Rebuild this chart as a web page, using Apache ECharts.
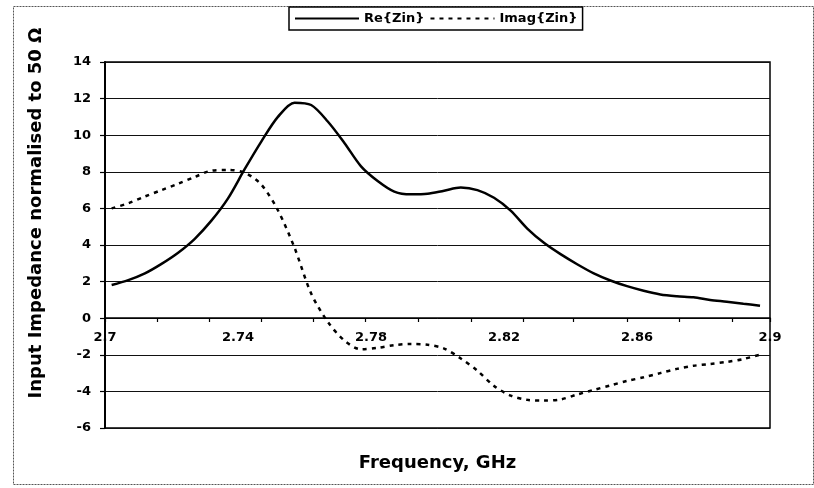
<!DOCTYPE html>
<html>
<head>
<meta charset="utf-8">
<script src="https://cdn.jsdelivr.net/npm/echarts@6/dist/echarts.min.js"></script>
<style>
html,body{margin:0;padding:0;background:#fff;}
#chart{width:814px;height:488px;}
</style>
</head>
<body>
<div id="chart"></div>
<script>
// Frequency (GHz) sample points
const freq = [2.702, 2.707, 2.712, 2.717, 2.722, 2.727, 2.732, 2.737, 2.742, 2.747,
              2.752, 2.757, 2.762, 2.767, 2.772, 2.777, 2.782, 2.787, 2.792, 2.797,
              2.802, 2.807, 2.812, 2.817, 2.822, 2.827, 2.832, 2.837, 2.842, 2.847,
              2.852, 2.857, 2.862, 2.867, 2.872, 2.877, 2.882, 2.887, 2.892, 2.897];
// Re{Zin}
const reZin = [1.81, 2.08, 2.45, 2.97, 3.58, 4.34, 5.33, 6.55, 8.14, 9.65,
               11.0, 11.78, 11.65, 10.75, 9.58, 8.3, 7.5, 6.92, 6.77, 6.8,
               6.97, 7.14, 7.0, 6.58, 5.88, 4.9, 4.12, 3.5, 2.95, 2.45,
               2.06, 1.75, 1.5, 1.3, 1.2, 1.14, 1.0, 0.9, 0.79, 0.68];
// Imag{Zin}
const imZin = [6.0, 6.28, 6.65, 7.0, 7.35, 7.72, 8.06, 8.1, 7.95, 7.3,
               5.9, 3.85, 1.35, -0.2, -1.22, -1.7, -1.62, -1.47, -1.41, -1.45,
               -1.66, -2.2, -2.87, -3.7, -4.23, -4.46, -4.5, -4.44, -4.17, -3.92,
               -3.67, -3.43, -3.23, -3.0, -2.77, -2.6, -2.5, -2.39, -2.23, -1.99];
// Axis tick labels
const xLabels = [2.7, 2.74, 2.78, 2.82, 2.86, 2.9];
const xTickMarks = [2.7, 2.7156, 2.7313, 2.7469, 2.7626, 2.7782, 2.7941, 2.8101, 2.8257, 2.8408, 2.8570, 2.8726, 2.8886, 2.9];
const yLabels = [-6, -4, -2, 0, 2, 4, 6, 8, 10, 12, 14];

const FONT = 'DejaVu Sans';
const chart = echarts.init(document.getElementById('chart'), null, {renderer: 'canvas'});
chart.setOption({
  animation: false,
  backgroundColor: '#fff',
  graphic: [{
    type: 'rect', left: 11, top: 4, z: -1,
    shape: {width: 800, height: 478},
    style: {fill: 'none', stroke: '#555', lineWidth: 1, lineDash: [2, 1]}
  }],
  legend: {
    left: 289, top: 7,
    padding: [5, 5, 5, 5],
    borderColor: '#000', borderWidth: 1.5,
    itemWidth: 64, itemHeight: 14, itemGap: 5,
    itemStyle: {color: 'transparent', opacity: 0, borderWidth: 0},
    textStyle: {fontFamily: FONT, fontWeight: 'bold', fontSize: 13, color: '#000'},
    data: ['Re{Zin}', 'Imag{Zin}']
  },
  grid: {left: 105, right: 44, top: 62, bottom: 60, outerBoundsMode: 'none', containLabel: false,
    show: true, borderColor: '#000', borderWidth: 1.5, backgroundColor: 'transparent'},
  xAxis: {
    type: 'value', min: 2.7, max: 2.9, position: 'bottom', offset: -110,
    name: 'Frequency, GHz', nameLocation: 'middle', nameGap: 136,
    nameTextStyle: {fontFamily: FONT, fontWeight: 'bold', fontSize: 18, color: '#000'},
    axisLine: {onZero: false, lineStyle: {color: '#000', width: 1.5}},
    axisTick: {show: true, inside: false, length: 4, customValues: xTickMarks, lineStyle: {color: '#000', width: 1.2}},
    axisLabel: {customValues: xLabels, margin: 13, fontFamily: FONT, fontWeight: 'bold', fontSize: 13, color: '#000',
      formatter: v => String(+v.toFixed(2))},
    splitLine: {show: false}
  },
  yAxis: {
    type: 'value', min: -6, max: 14, interval: 2,
    name: 'Input Impedance normalised to 50 Ω', nameLocation: 'middle', nameGap: 60, nameRotate: 90,
    nameTextStyle: {fontFamily: FONT, fontWeight: 'bold', fontSize: 18, color: '#000', padding: [0, 0, 0, 64]},
    axisLine: {show: true, onZero: false, lineStyle: {color: '#000', width: 2}},
    axisTick: {show: true, length: 5, lineStyle: {color: '#000', width: 1.2}},
    axisLabel: {margin: 14, fontFamily: FONT, fontWeight: 'bold', fontSize: 13, color: '#000'},
    splitLine: {show: true, lineStyle: {color: '#111', width: 1}}
  },
  series: [{
    name: 'Re{Zin}', type: 'line', smooth: 0.3, symbol: 'none',
    lineStyle: {color: '#000', width: 2.5, type: 'solid'},
    itemStyle: {color: '#000'},
    data: freq.map((f, i) => [f, reZin[i]])
  }, {
    name: 'Imag{Zin}', type: 'line', smooth: 0.3, symbol: 'none',
    lineStyle: {color: '#000', width: 2.5, type: [4, 5]},
    itemStyle: {color: '#000'},
    data: freq.map((f, i) => [f, imZin[i]])
  }]
});
</script>
</body>
</html>
